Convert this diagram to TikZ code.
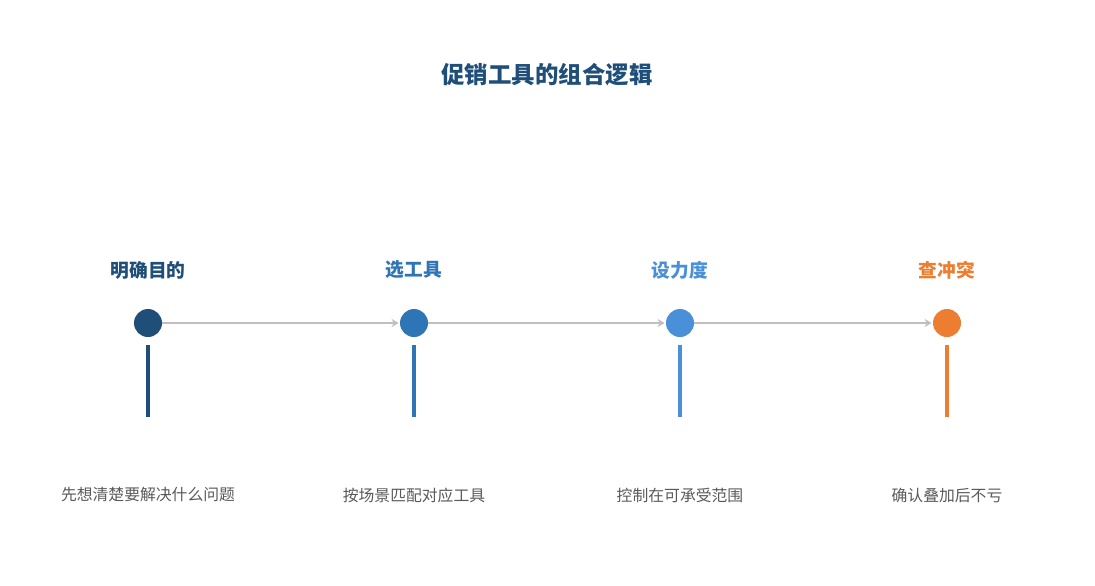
\documentclass[tikz,border=0pt]{standalone}
\usepackage{fontspec}
\setmainfont{Liberation Sans}
\newfontfamily\cjk{Noto Sans CJK SC}
\usetikzlibrary{arrows.meta}
\definecolor{stepA}{HTML}{1F4E79}
\definecolor{stepB}{HTML}{2E75B6}
\definecolor{stepC}{HTML}{4A90D9}
\definecolor{stepD}{HTML}{ED7D31}
\definecolor{linkgray}{HTML}{BFBFBF}
\definecolor{descgray}{HTML}{595959}
\begin{document}
\begin{tikzpicture}[x=0.03cm,y=-0.03cm,
  dot/.style={circle,fill=#1,minimum size=28*0.03cm,inner sep=0pt},
  step label/.style={font=\cjk\fontsize{16}{18}\selectfont\bfseries,text=#1},
  desc/.style={font=\cjk\fontsize{13.5}{16}\selectfont,text=descgray},
  link/.style={draw=linkgray,line width=2.2pt,-{Stealth[length=6pt,width=7pt]},shorten >=1pt}]

  \useasboundingbox (0,0) rectangle (1095,585);
  \node[font=\cjk\fontsize{20}{24}\selectfont\bfseries,text=stepA] (title) at (547,75) {促销工具的组合逻辑};

  \foreach \i/\x/\c/\lab/\txt in {1/148/stepA/明确目的/先想清楚要解决什么问题,
      2/414/stepB/选工具/按场景匹配对应工具,
      3/680/stepC/设力度/控制在可承受范围,
      4/947/stepD/查冲突/确认叠加后不亏}{
    \node[dot=\c] (d\i) at (\x,323) {};
    \node[step label=\c] (l\i) at (\x,270) {\lab};
    \node[desc] (t\i) at (\x,495) {\txt};
    \coordinate (s\i) at (\x,345);
    \coordinate (e\i) at (\x,417);
    \draw[\c,line width=3pt] (s\i) -- (e\i);
  }
  \begin{scope}[on background layer/.try]
  \draw[link] (d1) -- (d2);
  \draw[link] (d2) -- (d3);
  \draw[link] (d3) -- (d4);
  \end{scope}
\end{tikzpicture}
\end{document}
